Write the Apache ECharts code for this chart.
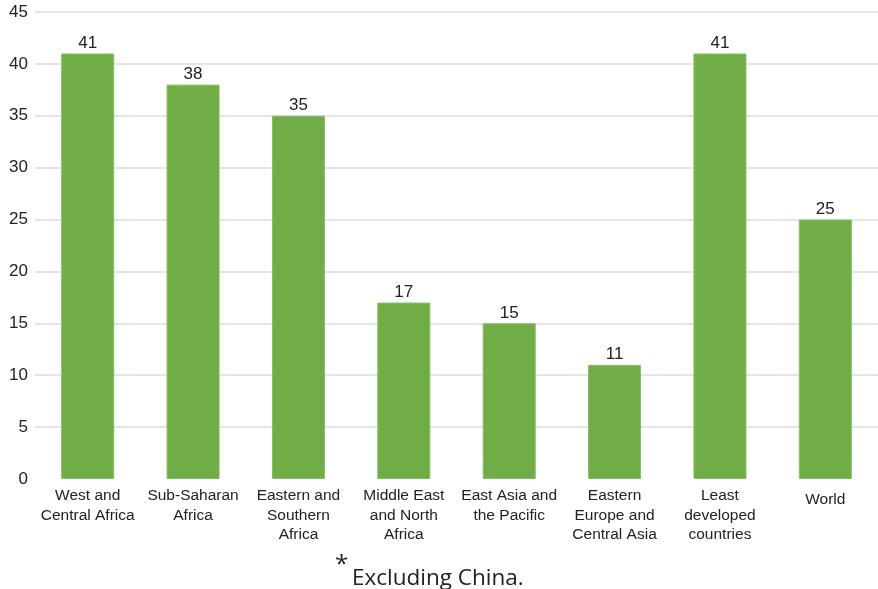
<!DOCTYPE html>
<html>
<head>
<meta charset="utf-8">
<script src="https://cdn.jsdelivr.net/npm/echarts@6/dist/echarts.min.js"></script>
<style>
  html, body { margin: 0; padding: 0; background: #fff; }
  #chart { width: 878px; height: 589px; }
</style>
</head>
<body>
<div id="chart"></div>
<script>
// data
const categories = [
  'West and\nCentral Africa',
  'Sub-Saharan\nAfrica',
  'Eastern and\nSouthern\nAfrica',
  'Middle East\nand North\nAfrica',
  'East Asia and\nthe Pacific',
  'Eastern\nEurope and\nCentral Asia',
  'Least\ndeveloped\ncountries',
  'World'
]
const values = [41, 38, 35, 17, 15, 11, 41, 25]
const yTicks = { min: 0, max: 45, interval: 5 }
const footnote = 'Excluding China.'

const chart = echarts.init(document.getElementById('chart'))
const font = 'Liberation Sans, Arial, sans-serif'

chart.setOption({
  animation: false,
  grid: { left: 35, right: 0, top: 12, bottom: 110 },
  xAxis: {
    type: 'category',
    data: categories,
    axisLine: { show: false },
    axisTick: { show: false },
    axisLabel: {
      interval: 0,
      margin: 7,
      color: '#222',
      fontFamily: font,
      fontSize: 15.5,
      lineHeight: 19.5,
      formatter: v => v === 'World' ? '{w|' + v + '}' : v,
      rich: { w: { padding: [8, 0, 0, 0], fontSize: 15.5, color: '#222', fontFamily: font } }
    }
  },
  yAxis: {
    type: 'value',
    min: yTicks.min,
    max: yTicks.max,
    interval: yTicks.interval,
    axisLine: { show: false },
    axisTick: { show: false },
    axisLabel: {
      margin: 7,
      color: '#222',
      fontFamily: font,
      fontSize: 17
    },
    splitLine: { showMinLine: false, lineStyle: { color: '#dcdcdc', width: 1.5 } }
  },
  series: [{
    type: 'bar',
    data: values,
    barWidth: 53,
    itemStyle: { color: '#70ad47', borderColor: '#86bd63', borderWidth: 1 },
    label: {
      show: true,
      position: 'top',
      distance: 2,
      color: '#222',
      fontFamily: font,
      fontSize: 17
    }
  }],
  graphic: [
    {
      type: 'text', left: 335, top: 553,
      style: { text: '*', fontSize: 24, fill: '#222', fontFamily: 'Open Sans, sans-serif' }
    },
    {
      type: 'text', left: 352, top: 567,
      style: { text: footnote, fontSize: 22.5, fill: '#222', fontFamily: 'Open Sans, sans-serif' }
    }
  ]
})
</script>
</body>
</html>
